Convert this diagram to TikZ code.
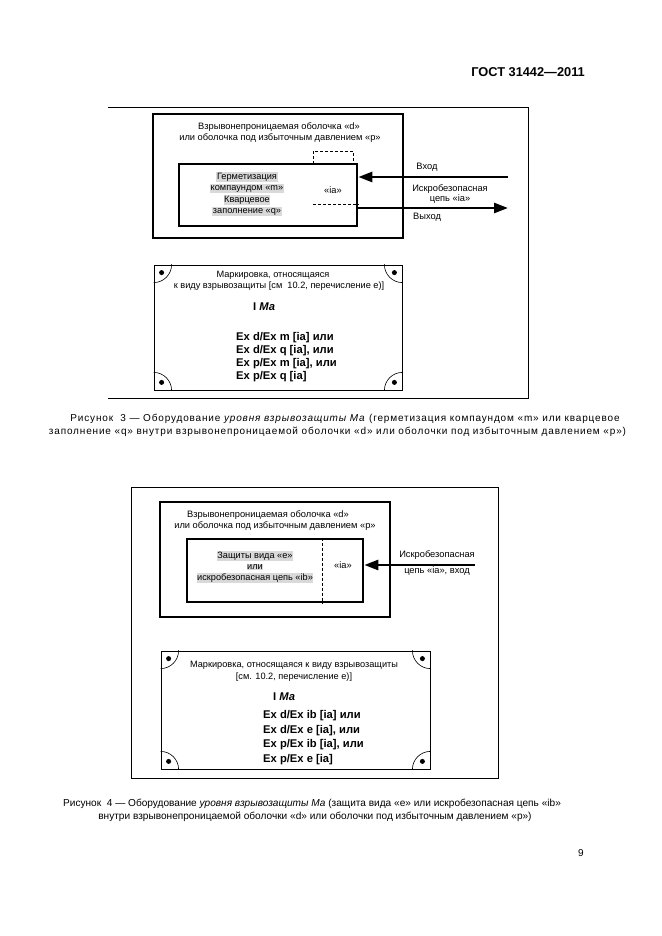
\documentclass[tikz,border=0pt]{standalone}
\usepackage{fontspec}
\setmainfont{Liberation Sans}
\usetikzlibrary{arrows.meta}
\begin{document}
\begin{tikzpicture}[x=1pt,y=-1pt,
  thickbox/.style={draw, line width=2.6pt, inner sep=0pt},
  thinbox/.style={draw, line width=0.8pt, inner sep=0pt},
  frameline/.style={line width=0.9pt},
  dashline/.style={densely dashed, line width=0.5pt},
  txt/.style={font=\fontsize{9.3}{10.5}\selectfont, inner sep=0pt, align=center},
  smalltxt/.style={font=\fontsize{9.2}{10}\selectfont, inner sep=0pt, align=center},
  hl/.style={font=\fontsize{9.2}{10.5}\selectfont, inner sep=0.6pt, fill=gray!30},
  extxt/.style={font=\bfseries\fontsize{11.2}{12}\selectfont, inner sep=0pt, anchor=west},
  captxt/.style={font=\fontsize{10}{12}\selectfont\addfontfeatures{LetterSpace=8.4}, inner sep=0pt},
  captxtb/.style={font=\fontsize{10.1}{12}\selectfont, inner sep=0pt},
  bigarrow/.style={line width=2.6pt, -{Triangle[length=14pt,width=10pt]}},
  dotmark/.style={fill=black}
]
\useasboundingbox[fill=white] (0,0) rectangle (661,936);

% header and page number
\node[font=\bfseries\fontsize{12.8}{14}\selectfont, inner sep=0pt, anchor=east] (hdr) at (585,72) {ГОСТ 31442—2011};
\node[font=\fontsize{10}{11}\selectfont, inner sep=0pt] (pg) at (581,853) {9};

% ================= Figure 3 =================
\coordinate (f3tl) at (108,107);
\coordinate (f3tr) at (528,107);
\coordinate (f3br) at (528,398);
\coordinate (f3bl) at (108,398);
\draw[frameline] (f3tl) -- (f3tr) -- (f3br) -- (f3bl);

\node[thickbox, minimum width=250pt, minimum height=124pt] (enc3) at (278,176) {};
\node[txt] (enc3t1) at (279,127) {Взрывонепроницаемая оболочка «d»};
\node[txt] (enc3t2) at (280,138) {или оболочка под избыточным давлением «р»};

\node[thickbox, fill=white, minimum width=178pt, minimum height=62pt] (in3) at (268,195) {};
\coordinate (d3a) at (313,164);
\coordinate (d3b) at (313,151);
\coordinate (d3c) at (353,151);
\coordinate (d3d) at (353,164);
\draw[dashline] (d3a) -- (d3b) -- (d3c) -- (d3d);
\coordinate (d3e) at (313,204);
\draw[dashline] (d3e) -- (d3e -| in3.east);

\node[hl] (m1) at (247,177) {Герметизация};
\node[hl] (m2) at (247,188.5) {компаундом «m»};
\node[hl] (m3) at (247,200) {Кварцевое};
\node[hl] (m4) at (247,211.5) {заполнение «q»};
\node[txt] (ia3) at (333,190) {«ia»};

\coordinate (inS) at (508,177);
\coordinate (outE) at (508,208);
\draw[bigarrow] (inS) -- (inS -| in3.east);
\draw[bigarrow] (outE -| in3.east) -- (outE);
\node[txt] (vhod) at (427,167) {Вход};
\node[txt] (isk3a) at (450,189) {Искробезопасная};
\node[txt] (isk3b) at (450,199) {цепь «ia»};
\node[txt, anchor=west] (vyhod) at (413,217) {Выход};

% marking box 3
\node[thinbox, minimum width=248pt, minimum height=125pt] (mk3) at (278,327.5) {};
\begin{scope}
  \clip (mk3.north west) rectangle (mk3.south east);
  \foreach \c in {north west, north east, south west, south east}
    \draw[line width=0.6pt] (mk3.\c) circle (18pt);
\end{scope}
\fill[dotmark] ([shift={(8,8)}]mk3.north west) circle (2.5pt);
\fill[dotmark] ([shift={(-8,8)}]mk3.north east) circle (2.5pt);
\fill[dotmark] ([shift={(8,-8)}]mk3.south west) circle (2.5pt);
\fill[dotmark] ([shift={(-8,-8)}]mk3.south east) circle (2.5pt);
\node[smalltxt] (mk3a) at (273,275) {Маркировка, относящаяся};
\node[smalltxt] (mk3b) at (279,286) {к виду взрывозащиты [см~~10.2, перечисление е)]};
\node[extxt] (ma3) at (253,307) {I \textit{Ma}};
\node[extxt] (ex3a) at (236,338) {Ex d/Ex m [ia] или};
\node[extxt] (ex3b) at (236,351) {Ex d/Ex q [ia], или};
\node[extxt] (ex3c) at (236,364) {Ex p/Ex m [ia], или};
\node[extxt] (ex3d) at (236,377) {Ex p/Ex q [ia]};

% caption 3
\node[captxt] (cap3a) at (345,419) {Рисунок~~3 — Оборудование \textit{уровня взрывозащиты Ма} (герметизация компаундом «m» или кварцевое};
\node[captxt] (cap3b) at (337.5,432) {заполнение «q» внутри взрывонепроницаемой оболочки «d» или оболочки под избыточным давлением «р»)};

% ================= Figure 4 =================
\node[draw, line width=0.9pt, inner sep=0pt, minimum width=367pt, minimum height=291pt] (fr4) at (314.5,632.5) {};

\node[thickbox, minimum width=230pt, minimum height=115pt] (enc4) at (275,559.5) {};
\node[txt] (enc4t1) at (268,515) {Взрывонепроницаемая оболочка «d»};
\node[txt] (enc4t2) at (275,526) {или оболочка под избыточным давлением «р»};

\node[thickbox, fill=white, minimum width=176pt, minimum height=63pt] (in4) at (275,570.5) {};
\coordinate (d4) at (322,570);
\draw[dashline] (d4 |- in4.north) -- (d4 |- in4.south);
\node[hl] (p1) at (255,556) {Защиты вида «е»};
\node[hl] (p2) at (255,567) {или};
\node[hl] (p3) at (255,578) {искробезопасная цепь «ib»};
\node[txt] (ia4) at (343,565) {«ia»};

\coordinate (in4S) at (475,565);
\draw[bigarrow] (in4S) -- (in4S -| in4.east);
\node[txt] (isk4a) at (437,555) {Искробезопасная};
\node[txt] (isk4b) at (437,571) {цепь «ia», вход};

% marking box 4
\node[thinbox, minimum width=269pt, minimum height=118pt] (mk4) at (295.5,710) {};
\begin{scope}
  \clip (mk4.north west) rectangle (mk4.south east);
  \foreach \c in {north west, north east, south west, south east}
    \draw[line width=0.6pt] (mk4.\c) circle (18pt);
\end{scope}
\fill[dotmark] ([shift={(8,8)}]mk4.north west) circle (2.5pt);
\fill[dotmark] ([shift={(-8,8)}]mk4.north east) circle (2.5pt);
\fill[dotmark] ([shift={(8,-8)}]mk4.south west) circle (2.5pt);
\fill[dotmark] ([shift={(-8,-8)}]mk4.south east) circle (2.5pt);
\node[smalltxt] (mk4a) at (294,665) {Маркировка, относящаяся к виду взрывозащиты};
\node[smalltxt] (mk4b) at (294,677) {[см. 10.2, перечисление е)]};
\node[extxt] (ma4) at (273,697) {I \textit{Ma}};
\node[extxt] (ex4a) at (263,716) {Ex d/Ex ib [ia] или};
\node[extxt] (ex4b) at (263,730.5) {Ex d/Ex e [ia], или};
\node[extxt] (ex4c) at (263,745) {Ex p/Ex ib [ia], или};
\node[extxt] (ex4d) at (263,759.5) {Ex p/Ex e [ia]};

% caption 4
\node[captxtb] (cap4a) at (312,804) {Рисунок~~4 — Оборудование \textit{уровня взрывозащиты Ма} (защита вида «е» или искробезопасная цепь «ib»};
\node[captxtb] (cap4b) at (315,817) {внутри взрывонепроницаемой оболочки «d» или оболочки под избыточным давлением «р»)};
\end{tikzpicture}
\end{document}
